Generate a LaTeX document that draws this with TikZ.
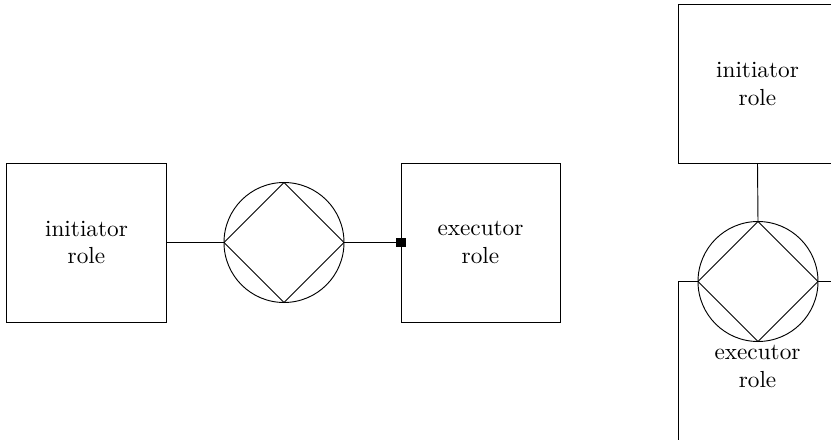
\documentclass[tikz,border=0pt]{standalone}
\usetikzlibrary{positioning}

\tikzset{
  rolebox/.style={draw, rectangle, align=center, inner sep=0pt, outer sep=0pt,
    minimum width=68.4pt, minimum height=68.4pt},
  txcircle/.style={draw, circle, fill=white, inner sep=0pt, outer sep=0pt,
    minimum size=51.6pt},
  sqdot/.style={fill, rectangle, inner sep=0pt, minimum size=4.2pt}
}

\begin{document}
\begin{tikzpicture}[x=0.43pt,y=0.43pt,yscale=-1,xscale=1]
\useasboundingbox (0,0) rectangle (831,440);
\clip (0,0) rectangle (831,440);

%Horizontal: initiator -- transaction -- executor
\node[rolebox] (ini) at (86.5,242.5) {initiator\\role};
\node[txcircle] (tx) at (284,242.5) {};
\node[rolebox] (exe) at (480.5,242.5) {executor\\role};
\draw (tx.north) -- (tx.east) -- (tx.south) -- (tx.west) -- cycle;
\draw (ini.east) -- (tx.west);
\draw (tx.east) -- (exe.west);
\node[sqdot] (exedot) at (exe.west) {};

%Vertical: executor box sits under the transaction circle
\node[rolebox] (ini2) at (757.5,84) {initiator\\role};
\node[rolebox, anchor=north west, minimum height=73.1pt] (exe2) at (678,281.5) {executor\\role};
\node[txcircle] (tx2) at (758,281.5) {};
\draw (tx2.north) -- (tx2.east) -- (tx2.south) -- (tx2.west) -- cycle;
\draw (ini2.south) -- (tx2.north);

\end{tikzpicture}
\end{document}
